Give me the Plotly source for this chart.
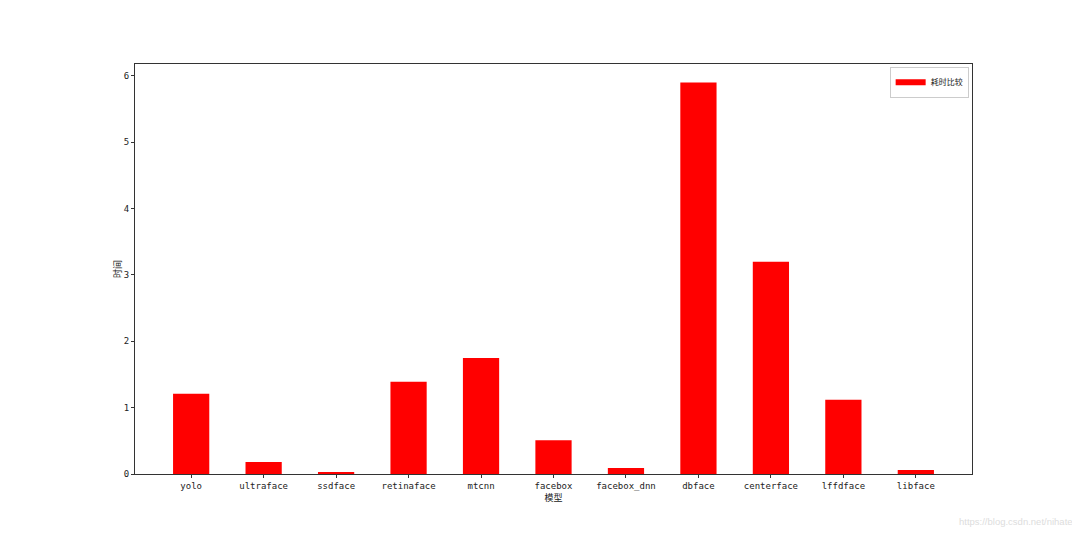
import plotly.graph_objects as go

# 各模型の推論時間
models = ["yolo", "ultraface", "ssdface", "retinaface", "mtcnn", "facebox",
          "facebox_dnn", "dbface", "centerface", "lffdface", "libface"]
times = [1.21, 0.18, 0.03, 1.39, 1.75, 0.51, 0.09, 5.90, 3.20, 1.12, 0.06]
y_ticks = [0, 1, 2, 3, 4, 5, 6]

FONT = "DejaVu Sans Mono, Noto Sans CJK SC, monospace"
CJK = "Noto Sans CJK SC, sans-serif"
RED = "#ff0000"

fig = go.Figure()
fig.add_trace(go.Bar(
    x=list(range(len(models))), y=times, width=0.5,
    marker=dict(color=RED, line=dict(width=0)),
    name="耗时比较", showlegend=False,
))
# 凡例用ダミー（matplotlib風の横長パッチ）
fig.add_trace(go.Scatter(
    x=[None], y=[None], mode="lines",
    line=dict(color=RED, width=6), name="耗时比较",
))

# ページ余白(8px)分を差し引いたサイズ
fig.update_layout(
    width=1072, height=525,
    paper_bgcolor="white", plot_bgcolor="white",
    margin=dict(l=127, r=108, t=56, b=59),
    showlegend=True,
    legend=dict(
        x=0.996, y=0.993, xanchor="right", yanchor="top",
        bordercolor="#cccccc", borderwidth=1, bgcolor="white",
        itemwidth=30, tracegroupgap=0,
        font=dict(family=CJK, size=8, color="#222"),
    ),
    xaxis=dict(
        range=[-0.775, 10.775],
        tickmode="array", tickvals=list(range(len(models))), ticktext=models,
        ticks="outside", ticklen=3, tickcolor="#333",
        showline=True, linecolor="#333", linewidth=1, mirror=True,
        showgrid=False, zeroline=False,
        tickfont=dict(family=FONT, size=9, color="#222"),
        title=dict(text="模型", font=dict(family=CJK, size=9, color="#222"), standoff=0),
    ),
    yaxis=dict(
        range=[0, 6.18],
        tickmode="array", tickvals=y_ticks,
        ticks="outside", ticklen=3, tickcolor="#333",
        showline=True, linecolor="#333", linewidth=1, mirror=True,
        showgrid=False, zeroline=False,
        tickfont=dict(family=FONT, size=9, color="#222"),
        title=dict(text="时间", font=dict(family=CJK, size=9, color="#222"), standoff=0),
    ),
)

fig.add_annotation(
    text="https://blog.csdn.net/nihate", xref="paper", yref="paper",
    x=1.123, y=-0.115, xanchor="right", yanchor="middle", showarrow=False,
    font=dict(family="Liberation Sans, sans-serif", size=9.5, color="#dddddd"),
)

fig.write_html("out.html")
